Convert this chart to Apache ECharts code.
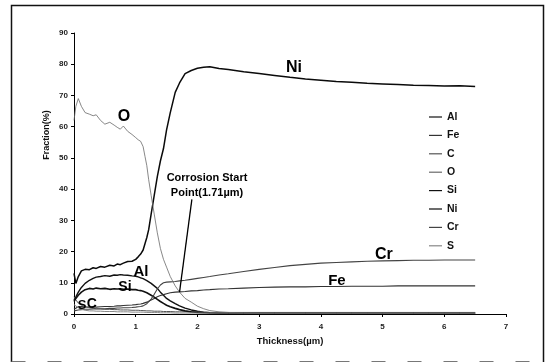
<!DOCTYPE html>
<html>
<head>
<meta charset="utf-8">
<script src="https://cdn.jsdelivr.net/npm/echarts@6/dist/echarts.min.js"></script>
<style>
  html, body { margin: 0; padding: 0; background: #fff; }
  #chart { width: 546px; height: 363px; }
</style>
</head>
<body>
<div id="chart"></div>
<script>
// Depth profile: atomic fraction (%) of each element vs. thickness (µm)
const thickness = [0, 0.03, 0.07, 0.12, 0.18, 0.25, 0.31, 0.36, 0.43, 0.5, 0.58, 0.65, 0.7, 0.75, 0.8, 0.87, 0.94, 1.0, 1.04, 1.08,
  1.12, 1.15, 1.18, 1.21, 1.25, 1.3, 1.35, 1.4, 1.45, 1.5, 1.56, 1.64, 1.71, 1.8, 1.9, 2.0, 2.1, 2.2, 2.35, 2.5,
  2.75, 3.0, 3.25, 3.5, 3.75, 4.0, 4.25, 4.5, 4.75, 5.0, 5.25, 5.5, 5.75, 6.0, 6.25, 6.5];

const ni = [13, 9.8, 12, 13.8, 14.3, 14.2, 14.8, 14.6, 15.2, 15, 15.6, 15.4, 16, 15.8, 16.3, 16.8, 16.9, 17.5, 18.3, 19.2,
  20.5, 22.5, 24.5, 27, 32, 38, 44, 49, 53, 59, 64.5, 71, 74, 77, 78, 78.7, 79, 79.2, 78.6, 78.3,
  77.6, 77, 76.4, 75.8, 75.3, 74.9, 74.5, 74.2, 73.9, 73.7, 73.5, 73.3, 73.2, 73, 73.1, 72.9];

const o = [62, 66.5, 69, 66.5, 64.5, 64, 63.5, 63.8, 62, 60.8, 61.4, 60.5, 59.8, 59.2, 60.2, 58.5, 57.5, 56.5, 55.8, 55.3,
  53.6, 50.5, 47.5, 43, 38, 32, 26, 21, 17.5, 15, 12, 9, 7, 5, 3.8, 2.5, 1.7, 1.1, 0.7, 0.5,
  0.3, 0.2, 0.2, 0.2, 0.2, 0.2, 0.2, 0.2, 0.2, 0.2, 0.2, 0.2, 0.2, 0.2, 0.2, 0.2];

const al = [4.5, 5.5, 7, 8.5, 9.8, 10.8, 11.4, 11.8, 12, 12.3, 12.1, 12.5, 12.4, 12.6, 12.5, 12.4, 12.2, 12.1, 11.9, 11.6,
  11.3, 11, 10.7, 10.3, 9.8, 9, 8.2, 7, 6, 5, 4.2, 3.3, 2.6, 1.9, 1.3, 0.9, 0.6, 0.45, 0.35, 0.3,
  0.3, 0.3, 0.3, 0.3, 0.3, 0.3, 0.3, 0.3, 0.3, 0.3, 0.3, 0.3, 0.3, 0.3, 0.3, 0.3];

const si = [4, 5, 6, 7, 7.8, 8.2, 8, 8.3, 8.1, 8.2, 7.9, 8.1, 8, 8.1, 7.9, 8, 7.8, 7.8, 7.6, 7.5,
  7.3, 7.1, 6.8, 6.5, 6, 5.4, 4.7, 4, 3.4, 2.8, 2.3, 1.8, 1.4, 1, 0.7, 0.5, 0.4, 0.3, 0.25, 0.25,
  0.25, 0.25, 0.25, 0.25, 0.25, 0.25, 0.25, 0.25, 0.25, 0.25, 0.25, 0.25, 0.25, 0.25, 0.25, 0.25];

const fe = [1.5, 2, 2.3, 2.4, 2.3, 2.2, 2.3, 2.2, 2.3, 2.4, 2.4, 2.5, 2.6, 2.6, 2.7, 2.8, 2.9, 3, 3.1, 3.2,
  3.4, 3.6, 3.8, 4.1, 4.5, 5, 5.5, 5.9, 6.2, 6.5, 6.8, 7, 7.1, 7.2, 7.4, 7.5, 7.7, 7.8, 8, 8.1,
  8.3, 8.5, 8.6, 8.7, 8.7, 8.8, 8.8, 8.9, 8.9, 8.9, 9, 9, 9, 9, 9, 9];

const cr = [1, 1.2, 1.3, 1.4, 1.5, 1.5, 1.6, 1.6, 1.7, 1.7, 1.8, 1.8, 1.9, 1.9, 2, 2, 2.1, 2.2, 2.3, 2.4,
  2.6, 2.9, 3.3, 3.9, 4.8, 6.3, 8, 9.3, 10, 10.2, 10.3, 10.4, 10.6, 10.8, 11.1, 11.4, 11.7, 12, 12.5, 12.9,
  13.6, 14.3, 14.9, 15.5, 15.9, 16.3, 16.5, 16.7, 16.9, 17, 17.1, 17.2, 17.2, 17.3, 17.3, 17.3];

const c = [5.5, 4.5, 3.5, 2.8, 2.3, 2, 1.8, 1.7, 1.6, 1.5, 1.5, 1.4, 1.4, 1.3, 1.3, 1.3, 1.2, 1.2, 1.2, 1.1,
  1.1, 1.1, 1, 1, 1, 0.9, 0.9, 0.9, 0.8, 0.8, 0.8, 0.7, 0.7, 0.7, 0.6, 0.6, 0.6, 0.5, 0.5, 0.5,
  0.5, 0.5, 0.5, 0.5, 0.5, 0.5, 0.5, 0.5, 0.5, 0.5, 0.5, 0.5, 0.5, 0.5, 0.5, 0.5];

const s = [3, 2.5, 2, 1.5, 1.2, 1, 1, 0.9, 0.9, 0.8, 0.8, 0.8, 0.7, 0.7, 0.7, 0.7, 0.6, 0.6, 0.6, 0.6,
  0.6, 0.5, 0.5, 0.5, 0.5, 0.5, 0.5, 0.4, 0.4, 0.4, 0.4, 0.3, 0.3, 0.3, 0.3, 0.3, 0.3, 0.3, 0.3, 0.3,
  0.3, 0.3, 0.3, 0.3, 0.3, 0.3, 0.3, 0.3, 0.3, 0.3, 0.3, 0.3, 0.3, 0.3, 0.3, 0.3];

const xTicks = [0, 1, 2, 3, 4, 5, 6, 7];
const yTicks = [0, 10, 20, 30, 40, 50, 60, 70, 80, 90];

// Legend order and curve names
const legendNames = ['Al', 'Fe', 'C', 'O', 'Si', 'Ni', 'Cr', 'S'];

// In-plot element labels, placed in data coordinates
const curveLabels = [
  { text: 'Ni', at: [3.565, 78.8], size: 16 },
  { text: 'O',  at: [0.81, 63.1],  size: 16 },
  { text: 'Al', at: [1.086, 13.45], size: 15 },
  { text: 'Si', at: [0.826, 8.65], size: 14 },
  { text: 'Cr', at: [5.02, 18.9],  size: 16 },
  { text: 'Fe', at: [4.26, 10.57], size: 15 },
  { text: 'S',  at: [0.13, 2.9],   size: 13 },
  { text: 'C',  at: [0.29, 3.2],   size: 14 }
];

// Corrosion start annotation: arrow from the caption down to 1.71 µm
const corrosionPoint = [1.71, 7];
const arrowTail = [1.91, 36.7];
const captionAt = [2.155, 41.3];

const FONT = '"Liberation Sans", Arial, sans-serif';

function pairs(ys) { return thickness.map((x, i) => [x, ys[i]]); }

const styles = {
  Al: { color: '#111', width: 1.4 },
  Fe: { color: '#333', width: 1.1 },
  C:  { color: '#555', width: 1 },
  O:  { color: '#6a6a6a', width: 0.8 },
  Si: { color: '#111', width: 1.6 },
  Ni: { color: '#0a0a0a', width: 1.5 },
  Cr: { color: '#444', width: 1.1 },
  S:  { color: '#888', width: 1 }
};
const values = { Al: al, Fe: fe, C: c, O: o, Si: si, Ni: ni, Cr: cr, S: s };

const series = legendNames.map(name => ({
  name: name,
  type: 'line',
  data: pairs(values[name]),
  showSymbol: false,
  symbol: 'none',
  animation: false,
  lineStyle: { color: styles[name].color, width: styles[name].width },
  itemStyle: { color: styles[name].color },
  z: name === 'O' ? 3 : 2
}));

// annotation arrow
series.push({
  type: 'line',
  data: [],
  silent: true,
  animation: false,
  markLine: {
    silent: true,
    animation: false,
    symbol: ['none', 'arrow'],
    symbolSize: [0, 7],
    lineStyle: { color: '#000', width: 1.3, type: 'solid' },
    label: { show: false },
    data: [[{ coord: arrowTail }, { coord: corrosionPoint }]]
  }
});

const chart = echarts.init(document.getElementById('chart'), null, { renderer: 'canvas' });

chart.setOption({
  animation: false,
  backgroundColor: '#fff',
  grid: { left: 74, right: 40, top: 33, bottom: 49, containLabel: false },
  xAxis: {
    type: 'value', min: xTicks[0], max: xTicks[xTicks.length - 1], interval: 1,
    name: 'Thickness(µm)', nameLocation: 'middle', nameGap: 20,
    nameTextStyle: { fontFamily: FONT, fontSize: 9.5, fontWeight: 'bold', color: '#111' },
    axisLine: { lineStyle: { color: '#000', width: 1 } },
    axisTick: { show: true, inside: false, length: 3, lineStyle: { color: '#000' } },
    axisLabel: { fontFamily: FONT, fontSize: 8, fontWeight: 'bold', color: '#222', margin: 9 },
    splitLine: { show: false }
  },
  yAxis: {
    type: 'value', min: yTicks[0], max: yTicks[yTicks.length - 1], interval: 10,
    axisLine: { show: true, lineStyle: { color: '#000', width: 1 } },
    axisTick: { show: true, inside: false, length: 3, lineStyle: { color: '#000' } },
    axisLabel: { fontFamily: FONT, fontSize: 8, fontWeight: 'bold', color: '#222', margin: 6 },
    splitLine: { show: false }
  },
  legend: {
    data: legendNames,
    orient: 'vertical',
    left: 429,
    top: 111,
    padding: 0,
    icon: 'rect',
    itemWidth: 13,
    itemHeight: 1.2,
    itemGap: 6.4,
    selectedMode: false,
    textStyle: { fontFamily: FONT, fontSize: 10.5, fontWeight: 'bold', color: '#111', lineHeight: 12 }
  },
  series: series
});

// Frame, axis title and text labels placed after the scales are known
const g = [];
g.push({ type: 'polyline', silent: true,
  shape: { points: [[11.5, 362], [11.5, 5.5], [543.5, 5.5], [543.5, 362]] },
  style: { fill: null, stroke: '#111', lineWidth: 1.5 } });
g.push({ type: 'line', silent: true,
  shape: { x1: 11.5, y1: 361.5, x2: 543.5, y2: 361.5 },
  style: { stroke: '#777', lineWidth: 1, lineDash: [14, 22] } });
g.push({ type: 'text', silent: true, x: 47, y: 135, rotation: Math.PI / 2,
  style: { text: 'Fraction(%)', fontFamily: FONT, fontSize: 9, fontWeight: 'bold', fill: '#111',
    align: 'center', verticalAlign: 'middle' } });

curveLabels.forEach(l => {
  const p = chart.convertToPixel({ gridIndex: 0 }, l.at);
  g.push({ type: 'text', silent: true, x: p[0], y: p[1], z: 10,
    style: { text: l.text, fontFamily: FONT, fontSize: l.size, fontWeight: 'bold', fill: '#000',
      align: 'center', verticalAlign: 'middle' } });
});

const cp = chart.convertToPixel({ gridIndex: 0 }, captionAt);
g.push({ type: 'text', silent: true, x: cp[0], y: cp[1], z: 10,
  style: { text: 'Corrosion Start\nPoint(1.71µm)', fontFamily: FONT, fontSize: 11, fontWeight: 'bold',
    fill: '#000', align: 'center', verticalAlign: 'middle', lineHeight: 15 } });

chart.setOption({ graphic: { elements: g } });
</script>
</body>
</html>
